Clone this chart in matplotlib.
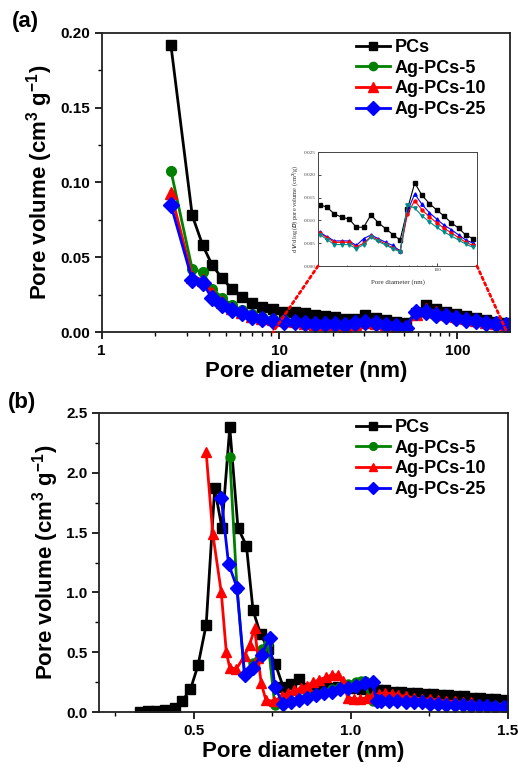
import matplotlib
matplotlib.use("Agg")
import matplotlib.pyplot as plt
from matplotlib.patches import ConnectionPatch
from matplotlib.ticker import MultipleLocator, FixedLocator, NullFormatter, FormatStrFormatter, LogLocator

plt.rcParams['font.family'] = ['Liberation Sans', 'DejaVu Sans']
plt.rcParams['font.weight'] = 'bold'
plt.rcParams['mathtext.fontset'] = 'custom'
plt.rcParams['mathtext.rm'] = 'Liberation Sans:bold'
plt.rcParams['mathtext.bf'] = 'Liberation Sans:bold'
plt.rcParams['mathtext.it'] = 'Liberation Sans:bold:italic'

# ---------------- data: panel (a) ----------------
series_names = ["PCs", "Ag-PCs-5", "Ag-PCs-10", "Ag-PCs-25"]
diam_a = [2.45, 3.23, 3.70, 4.18, 4.75, 5.41, 6.16, 7.01, 7.98, 9.2, 10.6,
          12.2, 13.9, 15.8, 18.1, 20.6, 23.4, 26.7, 30.4, 34.7, 39.5, 45.0,
          51.3, 58.5, 66.6, 75.9, 86.5, 98.6, 112, 128, 146, 166, 189]
pcs_a = [0.192, 0.078, 0.058, 0.0448, 0.036, 0.0286, 0.0236, 0.0196, 0.0169, 0.0152, 0.0136,
         0.0134, 0.0129, 0.0114, 0.0107, 0.0103, 0.0085, 0.0085, 0.0112, 0.0095, 0.0082, 0.0069,
         0.0057, 0.0125, 0.0182, 0.0155, 0.0137, 0.0123, 0.0110, 0.0095, 0.0083, 0.0068, 0.0060]
ag5_a = [0.108, 0.042, 0.040, 0.029, 0.023, 0.018, 0.0145, 0.012, 0.010, 0.009, 0.008,
         0.0070, 0.0060, 0.0048, 0.0048, 0.0048, 0.0040, 0.0050, 0.0064, 0.0054, 0.0045, 0.0038,
         0.0032, 0.0133, 0.0128, 0.0110, 0.0097, 0.0087, 0.0077, 0.0068, 0.0058, 0.0048, 0.0042]
ag10_a = [0.093, 0.037, 0.035, 0.026, 0.020, 0.016, 0.0135, 0.011, 0.0095, 0.0085, 0.0078,
          0.0072, 0.0062, 0.0052, 0.0052, 0.0052, 0.0043, 0.0055, 0.0065, 0.0057, 0.0048, 0.0040,
          0.0031, 0.0118, 0.0155, 0.0135, 0.0118, 0.0105, 0.0092, 0.0080, 0.0068, 0.0057, 0.0048]
ag25_a = [0.085, 0.0348, 0.0328, 0.0225, 0.018, 0.0147, 0.0125, 0.0102, 0.0085, 0.0076, 0.0069,
          0.0070, 0.0060, 0.0055, 0.0055, 0.0055, 0.0045, 0.0058, 0.0066, 0.0058, 0.0050, 0.0043,
          0.0030, 0.0134, 0.0135, 0.0115, 0.0105, 0.0092, 0.0082, 0.0072, 0.0062, 0.0052, 0.0045]

# inset (zoom of 12-190 nm region)
inset_diam = diam_a[11:]
inset_black = pcs_a[11:]
inset_blue = [0.0074, 0.0064, 0.0055, 0.0055, 0.0055, 0.0045, 0.0060, 0.0068, 0.0060, 0.0052, 0.0045,
              0.0033, 0.0120, 0.0158, 0.0135, 0.0117, 0.0103, 0.0090, 0.0080, 0.0068, 0.0057, 0.0050]
inset_red = [0.0072, 0.0062, 0.0052, 0.0052, 0.0052, 0.0042, 0.0050, 0.0065, 0.0057, 0.0048, 0.0040,
             0.0032, 0.0115, 0.0143, 0.0123, 0.0108, 0.0095, 0.0083, 0.0073, 0.0062, 0.0052, 0.0045]
inset_teal = [0.0069, 0.0058, 0.0047, 0.0047, 0.0047, 0.0038, 0.0047, 0.0063, 0.0054, 0.0046, 0.0038,
              0.0031, 0.0133, 0.0127, 0.0110, 0.0097, 0.0085, 0.0075, 0.0066, 0.0057, 0.0048, 0.0041]

# ---------------- data: panel (b) ----------------
pcs_b_x = [0.328, 0.355, 0.38, 0.408, 0.44, 0.464, 0.49, 0.514, 0.54, 0.567, 0.59, 0.615, 0.641,
           0.668, 0.689, 0.713, 0.737, 0.76, 0.785, 0.81, 0.835, 0.86, 0.885, 0.91, 0.935, 0.96,
           0.985, 1.01, 1.035, 1.06, 1.085, 1.11, 1.135, 1.16, 1.185, 1.21, 1.235, 1.26, 1.285,
           1.31, 1.335, 1.36, 1.385, 1.41, 1.435, 1.46, 1.485]
pcs_b_y = [0.003, 0.005, 0.008, 0.017, 0.036, 0.094, 0.19, 0.39, 0.73, 1.87, 1.54, 2.38, 1.54,
           1.39, 0.85, 0.65, 0.53, 0.40, 0.21, 0.23, 0.28, 0.20, 0.20, 0.20, 0.20, 0.21,
           0.21, 0.20, 0.19, 0.19, 0.18, 0.18, 0.17, 0.17, 0.16, 0.16, 0.15, 0.15, 0.14,
           0.14, 0.13, 0.13, 0.12, 0.12, 0.11, 0.11, 0.10]
ag5_b_x = [0.615, 0.638, 0.662, 0.689, 0.716, 0.737, 0.758, 0.784, 0.81, 0.836, 0.862, 0.888,
           0.914, 0.94, 0.966, 0.992, 1.018, 1.031, 1.044, 1.058, 1.07, 1.096, 1.122, 1.148,
           1.174, 1.2, 1.226, 1.252, 1.278, 1.304, 1.33, 1.356, 1.382, 1.408, 1.434, 1.46, 1.486]
ag5_b_y = [2.13, 1.03, 0.31, 0.41, 0.53, 0.58, 0.06, 0.08, 0.09, 0.11, 0.13, 0.15,
           0.17, 0.19, 0.21, 0.23, 0.25, 0.26, 0.26, 0.12, 0.09, 0.09, 0.09, 0.09,
           0.08, 0.08, 0.08, 0.07, 0.07, 0.07, 0.06, 0.06, 0.06, 0.05, 0.05, 0.05, 0.05]
ag10_b_x = [0.54, 0.561, 0.588, 0.604, 0.615, 0.636, 0.662, 0.678, 0.694, 0.705, 0.715, 0.73,
            0.755, 0.78, 0.80, 0.82, 0.84, 0.86, 0.88, 0.90, 0.92, 0.94, 0.96, 0.975, 0.99,
            1.01, 1.03, 1.05, 1.07, 1.09, 1.11, 1.13, 1.15, 1.175, 1.2, 1.226, 1.252, 1.278,
            1.304, 1.33, 1.356, 1.382, 1.408, 1.434, 1.46, 1.486]
ag10_b_y = [2.17, 1.49, 1.0, 0.50, 0.37, 0.36, 0.47, 0.56, 0.70, 0.45, 0.24, 0.10,
            0.09, 0.13, 0.16, 0.18, 0.20, 0.22, 0.25, 0.27, 0.29, 0.31, 0.31, 0.26, 0.12,
            0.11, 0.11, 0.12, 0.14, 0.15, 0.16, 0.15, 0.14, 0.13, 0.12, 0.11, 0.11, 0.10,
            0.09, 0.09, 0.08, 0.08, 0.07, 0.07, 0.06, 0.06]
ag25_b_x = [0.588, 0.611, 0.638, 0.662, 0.689, 0.716, 0.742, 0.758, 0.784, 0.81, 0.836, 0.862,
            0.888, 0.914, 0.94, 0.966, 0.992, 1.018, 1.044, 1.07, 1.082, 1.096, 1.122, 1.148,
            1.174, 1.2, 1.226, 1.252, 1.278, 1.304, 1.33, 1.356, 1.382, 1.408, 1.434, 1.46, 1.486]
ag25_b_y = [1.79, 1.24, 1.04, 0.31, 0.37, 0.48, 0.62, 0.21, 0.07, 0.08, 0.10, 0.12,
            0.14, 0.16, 0.17, 0.19, 0.20, 0.22, 0.24, 0.25, 0.09, 0.09, 0.09, 0.09,
            0.08, 0.08, 0.08, 0.07, 0.07, 0.06, 0.06, 0.06, 0.05, 0.05, 0.05, 0.04, 0.04]

colors = ['black', '#008000', '#ff0000', '#0000ff']
markers = ['s', 'o', '^', 'D']

W, H = 518, 776
fig = plt.figure(figsize=(W / 100, H / 100), dpi=100)

def px_axes(l, r, t, b):
    return fig.add_axes([l / W, 1 - b / H, (r - l) / W, (b - t) / H])

def style_axes(ax):
    for s in ax.spines.values():
        s.set_linewidth(1.3)
        s.set_color('#222222')
    ax.tick_params(which='major', direction='out', length=5, width=1.2, labelsize=11,
                   top=False, right=False)
    ax.tick_params(which='minor', direction='out', length=3, width=1.0, top=False, right=False)
    for lab in ax.get_xticklabels() + ax.get_yticklabels():
        lab.set_fontweight('bold')

# ---------------- panel (a) ----------------
ax1 = px_axes(101.7, 510, 33, 332)
ys_a = [pcs_a, ag5_a, ag10_a, ag25_a]
msz_a = [7, 7, 8, 8]
for name, ys, c, m, ms in zip(series_names, ys_a, colors, markers, msz_a):
    ax1.plot(diam_a, ys, color=c, marker=m, markersize=ms, lw=2.0, label=name)
ax1.set_xscale('log')
ax1.set_xlim(1, 198)
ax1.set_ylim(0, 0.20)
ax1.yaxis.set_major_locator(MultipleLocator(0.05))
ax1.yaxis.set_minor_locator(MultipleLocator(0.025))
ax1.yaxis.set_major_formatter(FormatStrFormatter('%.2f'))
ax1.xaxis.set_major_locator(FixedLocator([1, 10, 100]))
ax1.set_xticklabels(['1', '10', '100'])
ax1.xaxis.set_minor_locator(LogLocator(base=10, subs=[2, 3, 4, 5, 6, 7, 8, 9]))
ax1.xaxis.set_minor_formatter(NullFormatter())
style_axes(ax1)
ax1.set_xlabel('Pore diameter (nm)', fontsize=16, fontweight='bold', labelpad=2)
ax1.set_ylabel(r'Pore volume (cm$^{3}$ g$^{-1}$)', fontsize=16, fontweight='bold', labelpad=4)
ax1.legend(loc='upper left', bbox_to_anchor=(356 / W, 1 - 39 / H), bbox_transform=fig.transFigure,
           frameon=False, prop={'size': 13, 'weight': 'bold'}, handlelength=1.9,
           handletextpad=0.25, labelspacing=0.2, borderpad=0, borderaxespad=0, markerscale=0.85)
fig.text(25 / W, 1 - 22 / H, '(a)', fontsize=16, fontweight='bold', ha='center', va='center')

# inset
axi = px_axes(318, 477, 152, 266)
serif = ['Liberation Serif', 'DejaVu Serif']
axi.plot(inset_diam, inset_black, color='black', marker='s', markersize=2.2, lw=0.8)
axi.plot(inset_diam, inset_blue, color='#0000ff', marker='^', markersize=2.4, lw=0.8)
axi.plot(inset_diam, inset_red, color='#ff0000', marker='o', markersize=2.2, lw=0.8)
axi.plot(inset_diam, inset_teal, color='#008b8b', marker='v', markersize=2.4, lw=0.8)
axi.set_xscale('log')
axi.set_xlim(11.8, 203)
axi.set_ylim(0, 0.025)
axi.yaxis.set_major_locator(MultipleLocator(0.005))
axi.yaxis.set_major_formatter(FormatStrFormatter('%.3f'))
axi.xaxis.set_major_locator(FixedLocator([100]))
axi.set_xticklabels(['100'])
axi.xaxis.set_minor_locator(LogLocator(base=10, subs=[2, 3, 4, 5, 6, 7, 8, 9]))
axi.xaxis.set_minor_formatter(NullFormatter())
for s in axi.spines.values():
    s.set_linewidth(0.7)
    s.set_color('#444444')
axi.tick_params(which='major', direction='in', length=2, width=0.5, labelsize=3.8, pad=1.5)
axi.tick_params(which='minor', direction='in', length=1, width=0.4)
for lab in axi.get_xticklabels() + axi.get_yticklabels():
    lab.set_family(serif)
    lab.set_fontweight('normal')
    lab.set_color('#444444')
axi.set_xlabel('Pore diameter (nm)', fontsize=5, family=serif, fontweight='normal',
               labelpad=5, color='#333333')
axi.set_ylabel(r'd$\,V$/d log($D$) pore volume (cm$^3$/g)', fontsize=4.6, family=serif,
               fontweight='normal', labelpad=3, color='#333333')

for xa, xb in [(0, 9.2), (1, 190)]:
    con = ConnectionPatch(xyA=(xa, 0), coordsA=axi.transAxes, xyB=(xb, 0), coordsB=ax1.transData,
                          color='#ff0000', linestyle=(0, (1, 1.2)), lw=2.0, zorder=5)
    fig.add_artist(con)

# ---------------- panel (b) ----------------
ax2 = px_axes(99.3, 508, 413, 712)
xs_b = [pcs_b_x, ag5_b_x, ag10_b_x, ag25_b_x]
ys_b = [pcs_b_y, ag5_b_y, ag10_b_y, ag25_b_y]
msz_b = [6.5, 6.5, 7.5, 7]
for name, xs, ys, c, m, ms in zip(series_names, xs_b, ys_b, colors, markers, msz_b):
    ax2.plot(xs, ys, color=c, marker=m, markersize=ms, lw=2.0, label=name)
ax2.set_xlim(0.2, 1.5)
ax2.set_ylim(0, 2.5)
ax2.xaxis.set_major_locator(FixedLocator([0.5, 1.0, 1.5]))
ax2.xaxis.set_major_formatter(FormatStrFormatter('%.1f'))
ax2.xaxis.set_minor_locator(FixedLocator([0.25, 0.75, 1.25]))
ax2.yaxis.set_major_locator(MultipleLocator(0.5))
ax2.yaxis.set_minor_locator(MultipleLocator(0.25))
ax2.yaxis.set_major_formatter(FormatStrFormatter('%.1f'))
style_axes(ax2)
ax2.set_xlabel('Pore diameter (nm)', fontsize=16, fontweight='bold', labelpad=2)
ax2.set_ylabel(r'Pore volume (cm$^{3}$ g$^{-1}$)', fontsize=16, fontweight='bold', labelpad=4)
ax2.legend(loc='upper left', bbox_to_anchor=(356 / W, 1 - 419 / H), bbox_transform=fig.transFigure,
           frameon=False, prop={'size': 13, 'weight': 'bold'}, handlelength=1.9,
           handletextpad=0.25, labelspacing=0.2, borderpad=0, borderaxespad=0, markerscale=0.85)
fig.text(22 / W, 1 - 402 / H, '(b)', fontsize=16, fontweight='bold', ha='center', va='center')

fig.savefig('out.png', dpi=100)
